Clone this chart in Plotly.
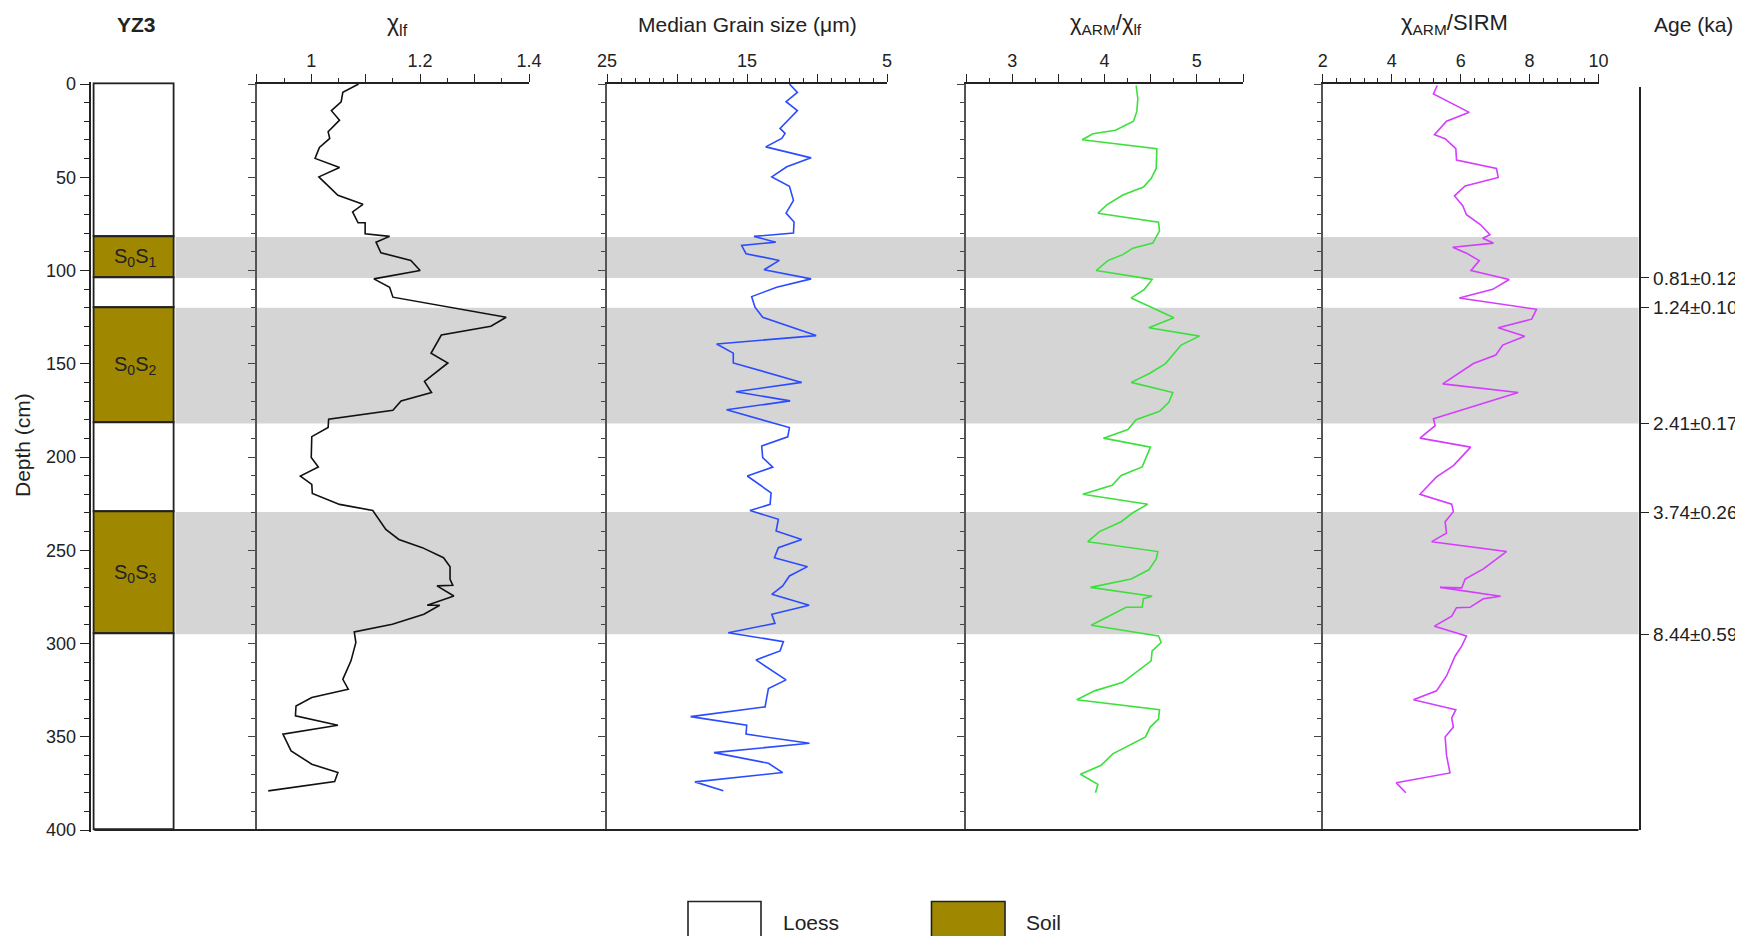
import plotly.graph_objects as go

# page body has an 8 px default margin: figure sized to fill the rest of the window
OFF = 8
W, H = 1743 - OFF, 936 - OFF

# ---------------- data ----------------
chi_depth = [0, 4.5, 9.5, 14.3, 19.4, 25.6, 29.2, 34.0, 39.9, 44.8, 49.8, 59.7, 64.5, 68.6, 74.4, 74.4,
             80.3, 81.7, 84.8, 90.5, 94.6, 100, 104.5, 109, 114.3, 125.1, 129.9, 134.6, 144.4, 149.6,
             159.5, 165.4, 169.9, 174.9, 179.7, 184.2, 189.1, 200.3, 205.4, 210.2, 214.7, 219.5, 225.4,
             228.7, 238.8, 244.2, 248.6, 254, 258.8, 265.6, 268.8, 269.1, 274.5, 279.5, 279.5, 284.3,
             289.7, 293.8, 299.5, 309.3, 319.2, 324.5, 329, 333.5, 338.8, 343.8, 348.6, 357.6, 364.7,
             369.2, 374.0, 379.0]
chi_lf = [1.087, 1.058, 1.055, 1.037, 1.052, 1.031, 1.034, 1.015, 1.007, 1.052, 1.014, 1.049, 1.095,
          1.076, 1.086, 1.099, 1.099, 1.144, 1.119, 1.128, 1.183, 1.200, 1.115, 1.144, 1.150, 1.358,
          1.330, 1.239, 1.220, 1.251, 1.208, 1.221, 1.165, 1.150, 1.032, 1.031, 1.001, 1.000, 1.013,
          0.980, 1.001, 1.002, 1.052, 1.113, 1.137, 1.161, 1.204, 1.243, 1.255, 1.255, 1.260, 1.231,
          1.262, 1.213, 1.236, 1.207, 1.149, 1.079, 1.082, 1.073, 1.058, 1.068, 1.001, 0.972, 0.971,
          1.049, 0.948, 0.963, 1.001, 1.049, 1.043, 0.921]

gs_depth = [0, 4.5, 9.5, 14.3, 23.8, 26.5, 29.2, 33.7, 39.6, 44.4, 49.8, 54.8, 62.4, 69.2, 74.0, 79.9,
            81.7, 84.8, 86.6, 91.0, 94.6, 99.6, 104.5, 109, 114, 119.7, 125.1, 134.9, 139.4, 144.3,
            149.6, 160, 165, 169.9, 174.7, 184.2, 189.2, 194.1, 200.3, 205.4, 210.2, 219.2, 225.4,
            228.7, 233.4, 239.7, 244.2, 248.6, 254, 258.8, 263.8, 269.1, 273.6, 279.5, 284.3, 289.2,
            294.2, 299.0, 304, 308.8, 319.5, 324.2, 329, 334, 339.2, 343.8, 348.6, 353.5, 358.5,
            364.2, 369.2, 374.2, 379]
grain_size = [11.97, 11.40, 12.21, 11.40, 12.64, 12.28, 12.52, 13.66, 10.42, 12.16, 13.23, 11.97, 11.68,
              12.21, 11.64, 11.68, 14.50, 12.95, 15.38, 15.07, 12.69, 13.78, 10.42, 12.88, 14.67, 14.43,
              13.88, 10.06, 17.17, 15.98, 15.98, 11.09, 15.79, 11.92, 16.46, 11.97, 12.09, 13.95, 13.88,
              13.16, 14.98, 13.28, 13.35, 14.79, 12.76, 12.92, 11.09, 12.76, 13.04, 10.68, 11.97, 12.45,
              13.23, 10.56, 13.23, 13.0, 16.34, 12.40, 12.64, 14.36, 12.21, 13.47, 13.59, 13.71, 19.03,
              15.02, 15.07, 10.54, 17.36, 13.47, 12.45, 18.72, 16.69]

arm_depth = [0.8, 8, 14.7, 20, 24.8, 26.7, 29.9, 34.7, 45.3, 50.7, 55.2, 59.5, 64.8, 69.3, 74.1, 78.7,
             85.3, 88, 91.5, 94.7, 100, 104.8, 110.1, 114.7, 125.3, 130.7, 135.2, 140, 149.9, 155.2,
             160, 165.4, 170.7, 175.5, 180, 185.3, 189.9, 194.7, 205.3, 209.9, 215.2, 220, 225.3,
             229.9, 234.7, 240, 245.4, 250.7, 254.7, 260.5, 265.4, 269.9, 274.7, 276, 280.6, 280.6,
             290.2, 296, 299.5, 304, 309.3, 320.8, 325.4, 330.2, 335.5, 340.5, 344.8, 350.1, 359.2,
             365.3, 370.1, 375.5, 380]
arm_chi = [4.343, 4.361, 4.350, 4.314, 4.119, 3.874, 3.758, 4.567, 4.560, 4.505, 4.422, 4.199, 4.025,
           3.928, 4.585, 4.596, 4.523, 4.307, 4.199, 4.036, 3.910, 4.516, 4.433, 4.289, 4.751, 4.480,
           5.029, 4.830, 4.661, 4.487, 4.289, 4.740, 4.697, 4.596, 4.343, 4.253, 3.989, 4.498, 4.408,
           4.181, 4.083, 3.765, 4.469, 4.307, 4.181, 3.946, 3.819, 4.578, 4.560, 4.480, 4.289, 3.848,
           4.516, 4.422, 4.408, 4.235, 3.856, 4.585, 4.614, 4.516, 4.505, 4.199, 3.892, 3.700, 4.596,
           4.585, 4.495, 4.444, 4.090, 3.964, 3.740, 3.928, 3.903]

sirm_depth = [0.8, 5.3, 15.2, 20, 27.2, 29.3, 34.7, 40.8, 45.3, 50.1, 54.7, 60, 65.3, 70.1, 75.5, 80.8,
              82.7, 85.3, 87.5, 90.7, 94.7, 100, 104.8, 110.1, 114.7, 120.8, 126.1, 130.7, 135.2, 140,
              145.3, 149.9, 160.8, 165.4, 179.5, 183.2, 189.9, 194.7, 204.6, 210.7, 220, 225.3, 229.3,
              234.7, 240.8, 245.4, 250.7, 260, 265.4, 270.2, 269.9, 274.7, 276, 280.6, 280.8, 285.3,
              290.7, 296, 301.4, 306.7, 317.4, 325.4, 330.2, 335.5, 340, 344.8, 350.1, 360, 369.4,
              374.7, 380]
arm_sirm = [5.32, 5.21, 6.25, 5.59, 5.24, 5.55, 5.86, 5.88, 7.04, 7.09, 6.13, 5.82, 6.06, 6.17, 6.58,
            6.85, 6.64, 6.95, 5.77, 6.17, 6.54, 6.30, 7.41, 6.93, 5.96, 8.20, 8.06, 7.09, 7.86, 7.22,
            7.02, 6.37, 5.48, 7.67, 5.21, 5.26, 4.82, 6.29, 5.79, 5.30, 4.82, 5.74, 5.79, 5.55, 5.59,
            5.16, 7.33, 6.66, 6.13, 6.03, 5.40, 7.16, 6.66, 6.27, 5.88, 5.74, 5.24, 6.17, 6.03, 5.84,
            5.59, 5.30, 4.63, 5.86, 5.74, 5.79, 5.55, 5.59, 5.69, 4.13, 4.41]

layer_top = [0, 82, 104, 120, 182, 229.5, 295]
layer_bottom = [82, 104, 120, 182, 229.5, 295, 400]
layer_type = ["Loess", "Soil", "Loess", "Soil", "Loess", "Soil", "Loess"]
layer_name = ["", "S<sub>0</sub>S<sub>1</sub>", "", "S<sub>0</sub>S<sub>2</sub>", "",
              "S<sub>0</sub>S<sub>3</sub>", ""]

age_depth = [104, 120, 182, 229.5, 295]
age_label = ["0.81±0.12", "1.24±0.10", "2.41±0.17", "3.74±0.26", "8.44±0.59"]

# ---------------- styling ----------------
INK = "#222222"
SOIL = "#9F8700"
BAND = "#D5D5D5"
FONT = "Liberation Sans, Arial, sans-serif"


def px(x):
    return (x - OFF) / W


def py(y):
    return 1 - (y - OFF) / H


Y_TOP, Y_BOT = 84, 830
PPU = (Y_BOT - Y_TOP) / 400.0  # pixels per cm
ydom = [py(Y_BOT), py(Y_TOP)]

fig = go.Figure()

# (xaxis id, left px, right px, range, major tick0, major dtick, label step, minor dtick, minor tick0)
panels = [
    ("x2", 256.8, 529.0, [0.9, 1.4], 1.0, 0.1, 2, 0.05, 0.9),
    ("x3", 607.0, 887.0, [25, 5], 5, 5, 2, 1, 5),
    ("x4", 966.0, 1243.0, [2.5, 5.5], 3, 0.5, 2, 0.25, 2.5),
    ("x5", 1322.8, 1598.5, [2, 10], 2, 2, 1, 0.4, 2),
]

series = [
    (chi_lf, chi_depth, "#111111"),
    (grain_size, gs_depth, "#2B4BFF"),
    (arm_chi, arm_depth, "#3CE03C"),
    (arm_sirm, sirm_depth, "#D43CFF"),
]

layout = dict(
    width=W, height=H, autosize=False,
    margin=dict(l=0, r=0, t=0, b=0, pad=0, autoexpand=False),
    paper_bgcolor="white", plot_bgcolor="rgba(0,0,0,0)",
    showlegend=False, bargap=0,
    font=dict(family=FONT, color=INK),
)

# lithology column axes (ranges padded a little so the column outline is not clipped)
PAD = 1.0
layout["xaxis"] = dict(domain=[px(90.5), px(178.5)], range=[-0.05, 1.05], visible=False, anchor="y",
                       fixedrange=True)
layout["yaxis"] = dict(
    domain=[py(Y_BOT + PAD * PPU), py(Y_TOP - PAD * PPU)], range=[400 + PAD, -PAD], anchor="x",
    showline=True, linecolor=INK, linewidth=1.6,
    ticks="outside", ticklen=9, tickwidth=1.3, tickcolor=INK, tick0=0, dtick=50,
    tickfont=dict(size=18, color=INK, family=FONT), showgrid=False, zeroline=False,
    minor=dict(dtick=10, tick0=0, ticks="outside", ticklen=5, tickwidth=1.2, tickcolor=INK),
)

# lithology column as stacked bars
fig.add_trace(go.Bar(
    x=[0.5] * len(layer_top),
    y=[b - t for t, b in zip(layer_top, layer_bottom)],
    base=layer_top, width=1,
    marker=dict(color=[SOIL if t == "Soil" else "white" for t in layer_type],
                line=dict(color=INK, width=1.8)),
    xaxis="x", yaxis="y", cliponaxis=False, hoverinfo="skip",
))

for i, (xid, l, r, rng, t0, dt, step, mdt, m0) in enumerate(panels):
    n = xid[1:]
    layout["xaxis" + n] = dict(
        domain=[px(l), px(r)], range=rng, side="top", anchor="y" + n,
        showline=True, linecolor=INK, linewidth=1.5,
        ticks="outside", ticklen=8, tickwidth=1.2, tickcolor=INK,
        tickmode="linear", tick0=t0, dtick=dt, ticklabelstep=step,
        tickfont=dict(size=18, color=INK, family=FONT),
        minor=dict(dtick=mdt, tick0=m0, ticks="outside", ticklen=4, tickwidth=1.1, tickcolor=INK),
        showgrid=False, zeroline=False,
    )
    layout["yaxis" + n] = dict(
        domain=ydom, range=[400, 0], anchor=xid, showline=True, linecolor="#555555", linewidth=1.5,
        ticks="outside", ticklen=7, tickwidth=1.2, tickcolor="#444444", tick0=0, dtick=50,
        showticklabels=False, showgrid=False, zeroline=False,
        minor=dict(dtick=10, tick0=0, ticks="outside", ticklen=4, tickwidth=1.1, tickcolor="#444444"),
    )
    vals, deps, col = series[i]
    fig.add_trace(go.Scatter(x=vals, y=deps, mode="lines", line=dict(color=col, width=1.6),
                             xaxis=xid, yaxis="y" + n, hoverinfo="skip"))

# age axis
layout["xaxis6"] = dict(domain=[px(1600), px(1638.5)], range=[0, 1], visible=False, anchor="y6")
layout["yaxis6"] = dict(
    domain=[py(Y_BOT), py(87)], range=[400, (87 - Y_TOP) / PPU],
    anchor="x6", side="right", showline=True, linecolor=INK, linewidth=1.6,
    ticks="outside", ticklen=9, tickwidth=1.2, tickcolor=INK,
    tickvals=age_depth, ticktext=age_label, tickfont=dict(size=19, color=INK, family=FONT),
    showgrid=False, zeroline=False,
)
fig.add_trace(go.Scatter(x=[0.5] * len(age_depth), y=age_depth, mode="markers",
                         marker=dict(size=1, opacity=0), xaxis="x6", yaxis="y6", hoverinfo="skip"))

shapes = []
# grey bands for soils
for t, b, typ in zip(layer_top, layer_bottom, layer_type):
    if typ == "Soil":
        shapes.append(dict(type="rect", xref="paper", yref="y2", x0=px(175.5), x1=px(1638.5), y0=t, y1=b,
                           fillcolor=BAND, line=dict(width=0), layer="below"))
# bottom base line (frame)
shapes.append(dict(type="line", xref="paper", yref="paper", x0=px(94.5), x1=px(1638.5),
                   y0=py(Y_BOT), y1=py(Y_BOT), line=dict(color=INK, width=1.8)))
# legend boxes
shapes.append(dict(type="rect", xref="paper", yref="paper", x0=px(688), x1=px(761), y0=py(901.5), y1=py(960),
                   fillcolor="white", line=dict(color=INK, width=1.6)))
shapes.append(dict(type="rect", xref="paper", yref="paper", x0=px(931.5), x1=px(1005), y0=py(901.5), y1=py(960),
                   fillcolor=SOIL, line=dict(color=INK, width=1.6)))
layout["shapes"] = shapes

ann = []


def text(x, y, s, size, xanchor="center", bold=False, angle=0, family=FONT):
    ann.append(dict(x=px(x), y=py(y), xref="paper", yref="paper", text=("<b>%s</b>" % s) if bold else s,
                    showarrow=False, xanchor=xanchor, yanchor="middle", textangle=angle,
                    font=dict(size=size, color=INK, family=family)))


text(136, 24, "YZ3", 21, bold=True)
text(397, 24, "χ<sub>lf</sub>", 23)
text(747, 24, "Median Grain size (μm)", 21)
text(1106, 24, "χ<sub>ARM</sub>/χ<sub>lf</sub>", 22)
text(1454, 24, "χ<sub>ARM</sub>/SIRM", 22)
text(1652, 24, "Age (ka)", 21, xanchor="left")
text(22, 445, "Depth (cm)", 21, angle=-90)
for t, b, nm in zip(layer_top, layer_bottom, layer_name):
    if nm:
        ann.append(dict(x=0.5, y=(t + b) / 2, xref="x", yref="y", text=nm, showarrow=False,
                        xanchor="center", yanchor="middle", font=dict(size=20, color=INK, family=FONT)))
text(781, 922, "Loess", 21, xanchor="left")
text(1024, 922, "Soil", 21, xanchor="left")
layout["annotations"] = ann

fig.update_layout(**layout)
fig.write_html("out.html")
